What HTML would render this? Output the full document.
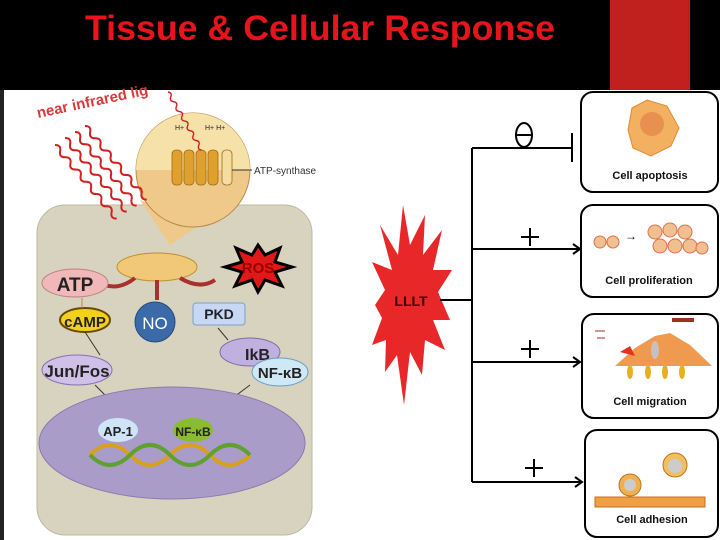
<!DOCTYPE html>
<html><head><style>body{margin:0;background:#000}svg{display:block}</style></head><body>
<svg width="720" height="540" xmlns="http://www.w3.org/2000/svg" font-family="Liberation Sans, sans-serif">
<defs>
<path id="wave" d="M0 0 q4 -5 8 0 t8 0 t8 0 t8 0 t8 0 t8 0 t8 0 t8 0 t8 0 t8 0 t8 0 t8 0" fill="none" stroke="#d02020" stroke-width="2"/>
</defs>
<rect width="720" height="540" fill="#fff"/>
<rect width="720" height="90" fill="#000"/>
<rect x="610" y="0" width="80" height="90" fill="#c0201e"/>
<text x="85" y="40" font-size="35" font-weight="bold" fill="#e8141b" textLength="470" lengthAdjust="spacingAndGlyphs">Tissue &amp; Cellular Response</text>
<rect x="0" y="90" width="4" height="450" fill="#222"/>
<!-- left panel -->
<text x="38" y="118" font-size="15" font-weight="bold" fill="#d83a3a" transform="rotate(-12 38 118)">near infrared lig</text>
<rect x="37" y="205" width="275" height="330" rx="28" fill="#d8d3be" stroke="#bdb8a3"/>
<path d="M140 200 L170 245 L200 225 Z" fill="#eec98a"/>
<circle cx="193" cy="170" r="57" fill="#eec98a" stroke="#b78a4a"/>
<path d="M136 170 a57 57 0 0 1 114 0 Z" fill="#f6e2a8"/>
<g fill="#e0a030" stroke="#a06a10" stroke-width="0.8">
<rect x="172" y="150" width="10" height="35" rx="4"/><rect x="184" y="150" width="10" height="35" rx="4"/><rect x="196" y="150" width="10" height="35" rx="4"/><rect x="208" y="150" width="10" height="35" rx="4"/><rect x="222" y="150" width="10" height="35" rx="4" fill="#f5dca0"/>
</g>
<g fill="#222" font-size="7"><text x="175" y="130">H+</text><text x="205" y="130">H+ H+</text></g>
<line x1="232" y1="170" x2="252" y2="170" stroke="#333"/>
<text x="254" y="174" font-size="10" fill="#333">ATP-synthase</text>
<use href="#wave" transform="translate(55 145) rotate(50)"/>
<use href="#wave" transform="translate(65 138) rotate(50)"/>
<use href="#wave" transform="translate(75 132) rotate(50)"/>
<use href="#wave" transform="translate(85 126) rotate(50)"/>
<use href="#wave" transform="translate(168 92) rotate(60) scale(0.7)"/>
<ellipse cx="157" cy="267" rx="40" ry="14" fill="#f0c878" stroke="#c0902a"/>
<g stroke="#a83030" stroke-width="4" fill="none"><path d="M135 278 Q120 290 105 285"/><path d="M157 280 L157 300"/><path d="M180 278 Q200 290 215 280"/></g>
<ellipse cx="75" cy="283" rx="33" ry="14" fill="#f0b8b8" stroke="#c08080"/>
<text x="75" y="291" font-size="19" font-weight="bold" text-anchor="middle" fill="#222">ATP</text>
<ellipse cx="85" cy="320" rx="25" ry="12" fill="#f2d020" stroke="#6a4a00" stroke-width="2"/>
<text x="85" y="327" font-size="15" font-weight="bold" text-anchor="middle" fill="#222">cAMP</text>
<circle cx="155" cy="322" r="20" fill="#3a6aa8" stroke="#244a80"/>
<text x="155" y="329" font-size="17" text-anchor="middle" fill="#fff">NO</text>
<polygon points="258,245 265,255 280,248 275,262 292,267 275,272 282,286 265,280 258,292 252,280 235,286 242,272 225,267 242,262 236,248 252,255" fill="#e01818" stroke="#000" stroke-width="3"/>
<text x="258" y="273" font-size="15" font-weight="bold" text-anchor="middle" fill="#900">ROS</text>
<rect x="193" y="303" width="52" height="22" rx="3" fill="#c6d8f4" stroke="#7f9cc8"/>
<text x="219" y="319" font-size="14" font-weight="bold" text-anchor="middle" fill="#222">PKD</text>
<ellipse cx="250" cy="352" rx="30" ry="14" fill="#c0b0e0" stroke="#806aa8"/>
<text x="245" y="360" font-size="16" font-weight="bold" fill="#222">IkB</text>
<ellipse cx="280" cy="372" rx="28" ry="14" fill="#cfe8f6" stroke="#6a9cc0"/>
<text x="280" y="378" font-size="15" font-weight="bold" text-anchor="middle" fill="#222">NF-κB</text>
<ellipse cx="77" cy="370" rx="35" ry="15" fill="#d0c0e8" stroke="#8a70b0"/>
<text x="77" y="377" font-size="17" font-weight="bold" text-anchor="middle" fill="#222">Jun/Fos</text>
<g stroke="#333" stroke-width="1"><line x1="85" y1="332" x2="100" y2="355"/><line x1="95" y1="385" x2="110" y2="400"/><line x1="218" y1="328" x2="228" y2="340"/><line x1="250" y1="385" x2="230" y2="400"/><line x1="82" y1="298" x2="82" y2="308" stroke="#d08030"/></g>
<ellipse cx="172" cy="443" rx="133" ry="56" fill="#a99cc8" stroke="#8a7ab0"/>
<path d="M90 455 q20 -20 40 0 t40 0 t40 0 t40 0" stroke="#d8a020" stroke-width="4" fill="none"/>
<path d="M90 455 q20 20 40 0 t40 0 t40 0 t40 0" stroke="#60a030" stroke-width="4" fill="none"/>
<ellipse cx="118" cy="430" rx="20" ry="12" fill="#cfe4f6"/>
<text x="118" y="436" font-size="13" font-weight="bold" text-anchor="middle" fill="#222">AP-1</text>
<ellipse cx="193" cy="430" rx="20" ry="12" fill="#8abb30"/>
<text x="193" y="436" font-size="12" font-weight="bold" text-anchor="middle" fill="#222">NF-κB</text>
<!-- right panel -->
<polygon points="403,205 410,245 425,215 423,255 442,230 433,270 452,270 438,292 450,320 433,320 445,350 425,340 422,375 410,352 404,405 397,355 385,372 386,340 372,345 382,318 375,305 385,290 372,262 392,270 380,225 398,255" fill="#e82828"/>
<text x="411" y="306" font-size="14" font-weight="bold" text-anchor="middle" fill="#300">LLLT</text>
<g stroke="#000" stroke-width="2" fill="none">
<line x1="440" y1="300" x2="472" y2="300"/>
<line x1="472" y1="148" x2="472" y2="482"/>
<line x1="472" y1="148" x2="572" y2="148"/><line x1="572" y1="133" x2="572" y2="162"/>
<line x1="472" y1="249" x2="580" y2="249"/><path d="M573 244 l7 5 l-7 5"/>
<line x1="472" y1="362" x2="580" y2="362"/><path d="M573 357 l7 5 l-7 5"/>
<line x1="472" y1="482" x2="582" y2="482"/><path d="M575 477 l7 5 l-7 5"/>
<ellipse cx="524" cy="135" rx="8" ry="12"/><line x1="516" y1="135" x2="532" y2="135"/>
<path d="M530 228 v18 M521 237 h18 M530 340 v18 M521 349 h18 M534 459 v18 M525 468 h18"/>
</g>
<g fill="#fff" stroke="#000" stroke-width="2">
<rect x="581" y="92" width="137" height="100" rx="12"/>
<rect x="581" y="205" width="137" height="92" rx="12"/>
<rect x="582" y="314" width="136" height="104" rx="12"/>
<rect x="585" y="430" width="133" height="107" rx="12"/>
</g>
<path d="M632 108 l15 -8 l20 6 l12 22 l-8 18 l-20 10 l-18 -8 l-5 -18 Z" fill="#f3b060" stroke="#e08a30"/>
<circle cx="652" cy="124" r="12" fill="#e89050"/>
<g fill="#f0c090" stroke="#e07050"><circle cx="600" cy="242" r="6"/><circle cx="613" cy="242" r="6"/><circle cx="655" cy="232" r="7"/><circle cx="670" cy="230" r="7"/><circle cx="685" cy="232" r="7"/><circle cx="660" cy="246" r="7"/><circle cx="675" cy="246" r="7"/><circle cx="690" cy="246" r="7"/><circle cx="702" cy="248" r="6"/></g>
<text x="625" y="240" font-size="12">→</text>
<path d="M615 366 l20 -18 l20 -12 l15 -3 l20 12 l22 21 Z" fill="#f09a50"/>
<ellipse cx="655" cy="350" rx="4" ry="9" fill="#c8c0c0"/>
<path d="M620 352 l10 -6 l5 10 Z" fill="#e83020"/>
<rect x="672" y="318" width="22" height="4" fill="#a03020"/>
<g stroke="#a03020"><line x1="595" y1="331" x2="605" y2="331"/><line x1="597" y1="338" x2="605" y2="338"/></g>
<g fill="#e8b020"><ellipse cx="630" cy="372" rx="3" ry="7"/><ellipse cx="648" cy="372" rx="3" ry="7"/><ellipse cx="665" cy="372" rx="3" ry="7"/><ellipse cx="682" cy="372" rx="3" ry="7"/></g>
<rect x="595" y="497" width="110" height="10" fill="#f0a040" stroke="#c07020"/>
<circle cx="630" cy="485" r="11" fill="#f0b050" stroke="#c07020"/><circle cx="630" cy="485" r="6" fill="#ccc"/>
<circle cx="675" cy="465" r="12" fill="#f0c060" stroke="#c07020"/><circle cx="675" cy="466" r="7" fill="#ccc"/>
<g font-size="11" text-anchor="middle" fill="#111" font-weight="bold">
<text x="650" y="179">Cell apoptosis</text>
<text x="649" y="284">Cell proliferation</text>
<text x="650" y="405">Cell migration</text>
<text x="652" y="523">Cell adhesion</text>
</g>
</svg>
</body></html>
